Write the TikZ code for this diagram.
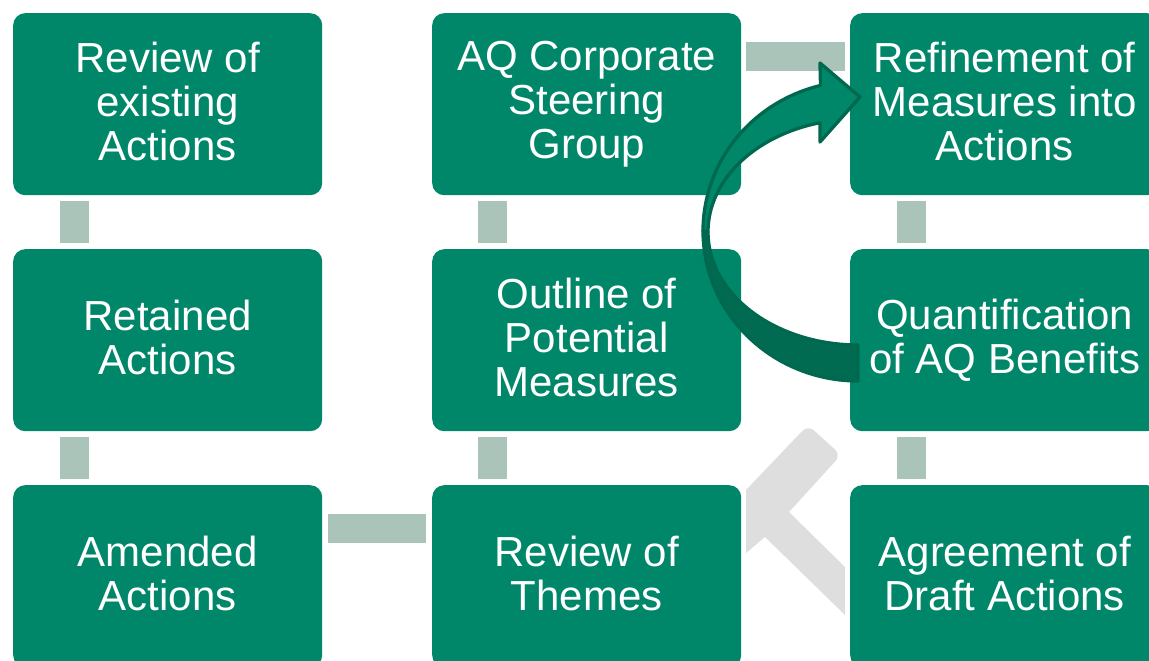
\documentclass[tikz,border=0pt]{standalone}
\usepackage{fontspec}
\setmainfont{Liberation Sans}
\usetikzlibrary{calc}
\definecolor{boxgreen}{HTML}{00876A}
\definecolor{conncol}{HTML}{AAC4B9}
\definecolor{arrdark}{HTML}{006B50}
\definecolor{arrline}{HTML}{00684E}
\definecolor{chev}{HTML}{DEDEDE}
\newcommand\linestrut{\rule[-6pt]{0pt}{38pt}}
\begin{document}
\begin{tikzpicture}[x=1pt,y=-1pt,
  stagebox/.style={rectangle, rounded corners=12pt, fill=boxgreen, text=white,
    minimum width=309pt, minimum height=182pt, inner sep=0pt, align=center,
    anchor=north west, font=\fontsize{42}{44}\selectfont,
    execute at begin node=\linestrut, execute at end node=\linestrut},
  linkbar/.style={draw=conncol, line width=29pt},
  bandedge/.style={draw=arrline, line width=3.3pt, line join=round}]
\useasboundingbox (0,0) rectangle (1149,661);
\clip (0,0) rectangle (1149,661);
% boxes
\node[stagebox] (r1c1) at (13,13)  {Review of\\existing\\Actions};
\node[stagebox] (r2c1) at (13,249) {Retained\\Actions};
\node[stagebox] (r3c1) at (13,485) {Amended\\Actions};
\node[stagebox] (r1c2) at (432,13)  {AQ Corporate\\Steering\\Group};
\node[stagebox] (r2c2) at (432,249) {Outline of\\Potential\\Measures};
\node[stagebox] (r3c2) at (432,485) {Review of\\Themes};
\node[stagebox] (r1c3) at (850,13)  {Refinement of\\Measures into\\Actions};
\node[stagebox] (r2c3) at (850,249) {Quantification\\of AQ Benefits};
\node[stagebox] (r3c3) at (850,485) {Agreement of\\Draft Actions};
% vertical connectors
\draw[linkbar] ($(r1c1.south west)+(61.5,6)$) -- ($(r2c1.north west)+(61.5,-6)$);
\draw[linkbar] ($(r2c1.south west)+(61.5,6)$) -- ($(r3c1.north west)+(61.5,-6)$);
\draw[linkbar] ($(r1c2.south west)+(60.5,6)$) -- ($(r2c2.north west)+(60.5,-6)$);
\draw[linkbar] ($(r2c2.south west)+(60.5,6)$) -- ($(r3c2.north west)+(60.5,-6)$);
\draw[linkbar] ($(r1c3.south west)+(61.5,6)$) -- ($(r2c3.north west)+(61.5,-6)$);
\draw[linkbar] ($(r2c3.south west)+(61.5,6)$) -- ($(r3c3.north west)+(61.5,-6)$);
% horizontal connectors
\draw[linkbar] ($(r3c1.north east)+(6,43.5)$) -- ($(r3c2.north west)+(-6,43.5)$);
\draw[linkbar] ($(r1c2.north east)+(5,43.5)$) -- ($(r1c3.north west)+(-5,43.5)$);
% grey chevron
\fill[chev] (746,490) [rounded corners=8pt] -- (808,425) -- (841,455) [sharp corners] -- (789,512)
  -- (845,567) -- (845,615) -- (765,537) -- (746,553) -- cycle;
% curved arrow: lower (darker) band
\path[fill=arrdark, bandedge]
  plot[domain=180:90, samples=40] ({858+155*cos(\x)},{231+150*sin(\x)})
  -- plot[domain=90:180, samples=40] ({858+150*cos(\x)},{232+113*sin(\x)}) -- cycle;
% upper band with head
\path[fill=boxgreen, bandedge]
  (820,63) -- (860,97) -- (820,142) -- (820,123)
  -- plot[domain=254.7:180, samples=40] ({858+150*cos(\x)},{232+113*sin(\x)})
  -- plot[domain=180:256, samples=40] ({858+155*cos(\x)},{231+150*sin(\x)})
  -- cycle;
\end{tikzpicture}
\end{document}
